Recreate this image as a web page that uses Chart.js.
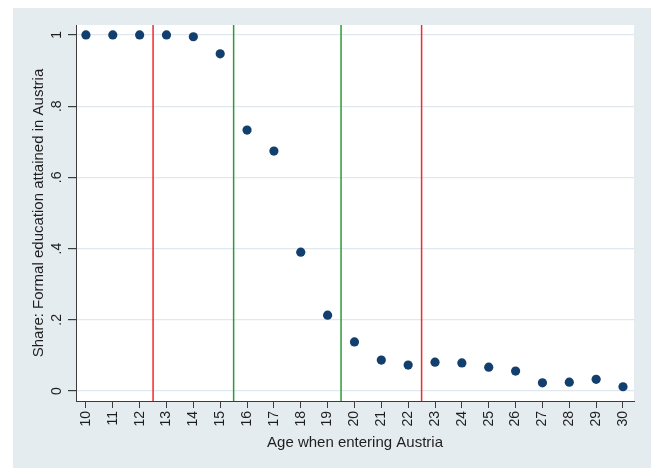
<!DOCTYPE html>
<html>
<head>
<meta charset="utf-8">
<script src="https://cdn.jsdelivr.net/npm/chart.js@4.4.1/dist/chart.umd.min.js"></script>
<style>
 html, body { margin: 0; padding: 0; background: #fff; }
 canvas { display: block; }
</style>
</head>
<body>
<canvas id="shareChart" width="651" height="468"></canvas>
<script>
const ages = [10, 11, 12, 13, 14, 15, 16, 17, 18, 19, 20, 21, 22, 23, 24, 25, 26, 27, 28, 29, 30];
const shares = [1.0, 1.0, 1.0, 1.0, 0.995, 0.947, 0.733, 0.674, 0.390, 0.213, 0.138, 0.087, 0.073, 0.081, 0.079, 0.067, 0.056, 0.023, 0.025, 0.033, 0.012];
const redCutoffs = [12.5, 22.5];
const greenCutoffs = [15.5, 19.5];
const yTickValues = [0, 0.2, 0.4, 0.6, 0.8, 1];
const yTickLabels = ['0', '.2', '.4', '.6', '.8', '1'];

const yMin = -0.028, yMax = 1.028;
const xMin = 9.63, xMax = 30.41;

const fontFam = "'Liberation Sans', Arial, Helvetica, sans-serif";
const panelCol = '#e5ecf0';
const axisCol = '#3c3c3c';
const textCol = '#1e1e1e';

function cutoffLine(x, color) {
 return {
  type: 'line',
  data: [{ x: x, y: yMin }, { x: x, y: yMax }],
  borderColor: color,
  borderWidth: 1.5,
  pointRadius: 0,
  fill: false
 };
}

// stata-ish backdrop: light panel, white plot region
const backdrop = {
 id: 'backdrop',
 beforeDraw(chart) {
  const { ctx, chartArea: a } = chart;
  ctx.save();
  ctx.fillStyle = '#fff';
  ctx.fillRect(0, 0, chart.width, chart.height);
  ctx.fillStyle = panelCol;
  ctx.fillRect(13, 8, chart.width - 13, chart.height - 8);
  ctx.fillStyle = '#fff';
  ctx.fillRect(a.left, a.top, a.right - a.left, a.bottom - a.top);
  ctx.restore();
 }
};

// y tick labels turned sideways, like the x ones
const sideYLabels = {
 id: 'sideYLabels',
 afterDraw(chart) {
  const ctx = chart.ctx;
  const y = chart.scales.y;
  ctx.save();
  ctx.font = '14px ' + fontFam;
  ctx.fillStyle = textCol;
  ctx.textAlign = 'center';
  ctx.textBaseline = 'middle';
  yTickValues.forEach((v, i) => {
   ctx.save();
   ctx.translate(57.5, y.getPixelForValue(v));
   ctx.rotate(-Math.PI / 2);
   ctx.fillText(yTickLabels[i], 0, 0);
   ctx.restore();
  });
  ctx.restore();
 }
};

const datasets = [
 {
  type: 'scatter',
  data: ages.map((a, i) => ({ x: a, y: shares[i] })),
  backgroundColor: '#123f6e',
  borderColor: '#123f6e',
  pointRadius: 4.6,
  borderWidth: 0
 }
];
redCutoffs.forEach(c => datasets.push(cutoffLine(c, '#f5282a')));
greenCutoffs.forEach(c => datasets.push(cutoffLine(c, '#2f9a3a')));

new Chart(document.getElementById('shareChart'), {
 type: 'scatter',
 data: { datasets },
 options: {
  responsive: false,
  animation: false,
  layout: { padding: { left: 0, right: 17, top: 25, bottom: 0 } },
  plugins: { legend: { display: false }, tooltip: { enabled: false } },
  scales: {
   x: {
    type: 'linear',
    min: xMin,
    max: xMax,
    afterBuildTicks: s => { s.ticks = ages.map(v => ({ value: v })); },
    afterFit: s => { s.height = 67; },
    ticks: {
     color: textCol,
     font: { family: fontFam, size: 14 },
     minRotation: 90,
     maxRotation: 90,
     padding: 3,
     callback: v => String(v)
    },
    grid: { drawOnChartArea: false, drawTicks: true, tickLength: 7, tickColor: axisCol },
    border: { color: axisCol, width: 1 },
    title: {
     display: true,
     text: 'Age when entering Austria',
     color: textCol,
     font: { family: fontFam, size: 15 },
     padding: { top: 0, bottom: 16 }
    }
   },
   y: {
    type: 'linear',
    min: yMin,
    max: yMax,
    afterBuildTicks: s => { s.ticks = yTickValues.map(v => ({ value: v })); },
    afterFit: s => { s.width = 76; },
    ticks: { color: 'rgba(0,0,0,0)', font: { family: fontFam, size: 14 } },
    grid: { color: '#dfe8ee', lineWidth: 1.2, tickLength: 8, tickColor: axisCol },
    border: { color: axisCol, width: 1 },
    title: {
     display: true,
     text: 'Share: Formal education attained in Austria',
     color: textCol,
     font: { family: fontFam, size: 15 },
     padding: { top: 30, bottom: 0 }
    }
   }
  }
 },
 plugins: [backdrop, sideYLabels]
});
</script>
</body>
</html>
